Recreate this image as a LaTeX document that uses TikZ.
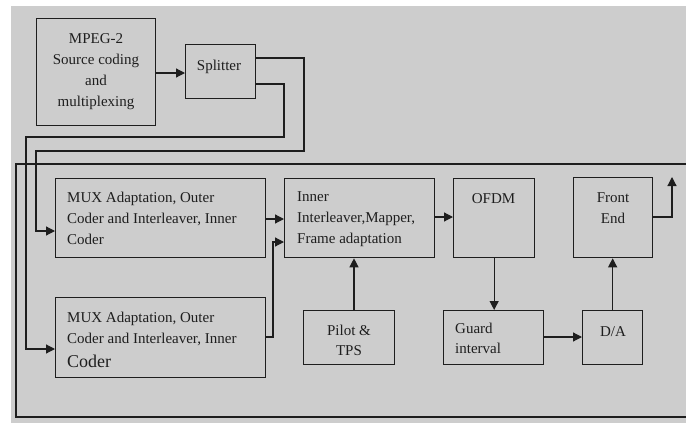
\documentclass[tikz,border=0pt]{standalone}
\usepackage{fontspec}
\setmainfont{Liberation Serif}
\usetikzlibrary{arrows.meta}
\definecolor{bg}{RGB}{205,205,205}
\definecolor{ink}{RGB}{30,30,30}
\tikzset{
  box/.style={draw=ink, line width=1.3pt, rectangle, inner sep=0pt, anchor=north west},
  txt/.style={inner sep=0pt, text=ink, font=\fontsize{15}{21}\selectfont},
  wire/.style={draw=ink, line width=1.2pt},
  arr/.style={wire, -{Triangle[length=9pt,width=9pt]}},
}
\begin{document}
\begin{tikzpicture}[x=1pt,y=-1pt]
\useasboundingbox (0,0) rectangle (686,423);
\fill[white] (0,0) rectangle (686,423);
\fill[bg] (11,6) rectangle (686,423);
% outer frame
\draw[wire, line width=1.3pt] (686,164) -- (16,164) -- (16,417) -- (686,417);
% boxes
\node[box, minimum width=119pt, minimum height=107pt] (mpeg) at (36,18) {};
\node[box, minimum width=70pt, minimum height=54pt] (split) at (185,44) {};
\node[box, minimum width=210pt, minimum height=79pt] (mux1) at (55,178) {};
\node[box, minimum width=210pt, minimum height=80pt] (mux2) at (55,297) {};
\node[box, minimum width=150pt, minimum height=79pt] (inner) at (284,178) {};
\node[box, minimum width=81pt, minimum height=79pt] (ofdm) at (453,178) {};
\node[box, minimum width=79pt, minimum height=80pt] (front) at (573,177) {};
\node[box, minimum width=91pt, minimum height=54pt] (pilot) at (303,310) {};
\node[box, minimum width=100pt, minimum height=54pt] (guard) at (443,310) {};
\node[box, minimum width=60pt, minimum height=54pt] (da) at (582,310) {};
% texts
\node[txt, anchor=north, align=center] (tmpeg) at (96,33) {MPEG-2\\Source coding\\and\\multiplexing};
\node[txt, anchor=base] (tsplit) at (219,70) {Splitter};
\node[txt, anchor=north west, align=left] (tmux1) at (67,191.8) {MUX Adaptation, Outer\\Coder and Interleaver, Inner\\Coder};
\node[txt, anchor=north west, align=left] (tmux2a) at (67,312) {MUX Adaptation, Outer\\Coder and Interleaver, Inner};
\node[txt, anchor=base west, font=\fontsize{18}{21}\selectfont] (tmux2b) at (67,367) {Coder};
\node[txt, anchor=north west, align=left] (tinner) at (297,191.8) {Inner\\Interleaver,Mapper,\\Frame adaptation};
\node[txt, anchor=base] (tofdm) at (493.5,203) {OFDM};
\node[txt, anchor=north, align=center] (tfront) at (613,192) {Front\\End};
\node[txt, anchor=north, align=center, font=\fontsize{15}{20}\selectfont] (tpilot) at (349,324.8) {Pilot \&\\TPS};
\node[txt, anchor=north west, align=left, font=\fontsize{15}{20}\selectfont] (tguard) at (455,323) {Guard\\interval};
\node[txt, anchor=base] (tda) at (613,336) {D/A};
% connectors
\coordinate (s1) at (split.east |- 0,58);
\coordinate (s2) at (split.east |- 0,84);
\coordinate (m1in) at (mux1.west |- 0,231);
\coordinate (m2in) at (mux2.west |- 0,349);
\coordinate (out) at (672,177);
\draw[arr] (mpeg.east |- 0,73) -- (split.west |- 0,73);
\draw[arr] (s1) -- (304,58) -- (304,151) -- (36,151) -- (36,231) -- (m1in);
\draw[arr] (s2) -- (284,84) -- (284,137) -- (26,137) -- (26,349) -- (m2in);
\draw[arr] (mux1.east |- 0,219) -- (inner.west |- 0,219);
\draw[arr] (mux2.east |- 0,337) -- (273,337) -- (273,242) -- (inner.west |- 0,242);
\draw[arr] (inner.east |- 0,217) -- (ofdm.west |- 0,217);
\draw[arr] (pilot.north -| 354,0) -- (inner.south -| 354,0);
\draw[arr] (ofdm.south) -- (guard.north -| ofdm.south);
\draw[arr] (guard.east |- 0,337) -- (da.west |- 0,337);
\draw[arr] (da.north) -- (front.south -| da.north);
\draw[arr] (front.east |- 0,217) -- (672,217) -- (out);
\end{tikzpicture}
\end{document}
